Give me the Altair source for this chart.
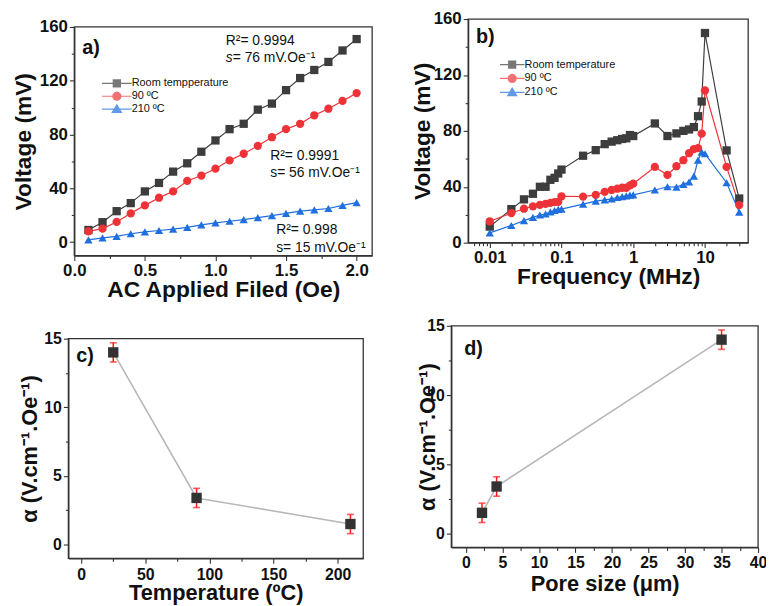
import math
import altair as alt
import pandas as pd

FONT = "Liberation Sans"
INK = "#111111"
FRAME_COL = "#333333"

# ---------------- data ----------------
# (a) voltage vs AC applied field
field_a = [0.1, 0.2, 0.3, 0.4, 0.5, 0.6, 0.7, 0.8, 0.9, 1.0,
           1.1, 1.2, 1.3, 1.4, 1.5, 1.6, 1.7, 1.8, 1.9, 2.0]
room_a = [9, 14.8, 23, 29, 37.7, 44, 52.4, 58.6, 67.2, 75.6,
          84, 88, 98.5, 103, 113, 122, 128, 134, 142.5, 151]
t90_a = [8, 10, 15, 21.4, 27.3, 33, 37.7, 45.5, 49.5, 54.6,
         60.8, 65.7, 71.6, 78, 84, 88, 94.3, 99.2, 105, 110.8]
t210_a = [1.7, 3.2, 4.2, 6.2, 7.6, 8.6, 9.6, 11, 12.8, 14.3,
          15.5, 16.7, 18.2, 19.7, 21.4, 23, 24, 25, 27.3, 29.3]
names_a = ["Room tempperature", "90 \u00baC", "210 \u00baC"]

r2_text_a = ["R\u00b2= 0.9994", "R\u00b2= 0.9991", "R\u00b2= 0.998"]
r2_x_a = [1.073, 1.388, 1.430]
r2_y_a = [149.7, 64.3, 9.1]
s_text_a = ["s= 56 mV.Oe\u207b\u00b9", "s= 15 mV.Oe\u207b\u00b9"]
s_x_a = [1.388, 1.430]
s_y_a = [51.1, -4.1]
s_italic_text = ["s"]
s_rest_text = ["= 76 mV.Oe\u207b\u00b9"]
s_italic_x = [1.073]
s_italic_y = [137.2]

# (b) voltage vs frequency
freq_b = [0.01, 0.02, 0.03, 0.04, 0.05, 0.06, 0.07, 0.08, 0.09,
          0.1, 0.2, 0.3, 0.4, 0.5, 0.6, 0.7, 0.8, 0.9,
          1, 2, 3, 4, 5, 6, 7, 8, 9,
          10, 20, 30]
room_b = [11.5, 24, 31, 35, 40, 40, 45, 46.4, 49.5,
          52.3, 62.2, 66.2, 70.5, 72.3, 73.3, 74.2, 74.7, 77,
          76.3, 85.3, 76.3, 78.2, 80, 81, 82.7, 90.5, 101,
          150, 66, 31.6]
t90_b = [15.3, 21.2, 24.3, 26, 27, 27.8, 28.5, 29, 29.2,
         33.2, 33, 34.2, 36.3, 37.7, 38.6, 39.3, 39.3, 41,
         42.2, 54.2, 48.5, 54.7, 59, 64, 67, 67.6, 78,
         108.9, 54.2, 26.9]
t210_b = [7, 12.3, 15.8, 18.1, 19.8, 20.5, 22, 23, 23.8,
          24, 27.6, 29.7, 30.6, 31.3, 32.3, 33, 33.5, 34,
          34.2, 37.7, 40, 39.8, 41.7, 43.4, 47.6, 59.1, 64.8,
          63.6, 42.9, 21.9]
names_b = ["Room temperature", "90 \u00baC", "210 \u00baC"]

# (c) alpha vs temperature
temp_c = [25, 90, 210]
alpha_c = [14.0, 3.4, 1.5]
err_c = [0.7, 0.7, 0.7]

# (d) alpha vs pore size
pore_d = [2.2, 4.2, 35]
alpha_d = [1.5, 3.4, 14.0]
err_d = [0.7, 0.7, 0.7]

panel_labels = ["a)", "b)", "c)", "d)"]
label_x = [0.056, 0.00644, -3.83, -0.24]
label_y = [144.5, 146.9, 13.7, 13.3]

# axis domains (frames)
dom_a = ([0, 2.11], [-10, 160])
dom_b = ([0.005, 40], [0, 160])
dom_c = ([-10, 220], [-1, 15])
dom_d = ([-2, 40], [-1, 15])

COLORS = ["#3d3d3d", "#ee3338", "#1f6fde"]
SHAPES = ["square", "circle", "triangle-up"]


def fmt(v):
    return ("%.3f" % v).rstrip("0").rstrip(".")


def glyphs(bar, sq, rc, tw, tt, tb):
    # legend glyphs: a thin bar (the line) plus the marker, all filled
    b = "M-1,%s L1,%s L1,%s L-1,%s Z" % (fmt(-bar), fmt(-bar), fmt(bar), fmt(bar))
    square = b + " M%s,%s L%s,%s L%s,%s L%s,%s Z" % (fmt(-sq), fmt(-sq), fmt(sq), fmt(-sq),
                                                    fmt(sq), fmt(sq), fmt(-sq), fmt(sq))
    pts = [(rc * math.cos(2 * math.pi * k / 16), rc * math.sin(2 * math.pi * k / 16))
           for k in range(16)]
    circle = b + " M" + " L".join("%s,%s" % (fmt(px), fmt(py)) for px, py in pts) + " Z"
    tri = b + " M0,%s L%s,%s L%s,%s Z" % (fmt(tt), fmt(tw), fmt(tb), fmt(-tw), fmt(tb))
    return [square, circle, tri]


LEG_A = glyphs(0.04, 0.28, 0.31, 0.38, -0.36, 0.27)
LEG_B = glyphs(0.05, 0.33, 0.37, 0.45, -0.42, 0.32)

# ---------------- layout (page pixels) ----------------
W, H = 766, 598
OX, OY = 8, 8
FRAMES = {"a": (75, 24, 376, 255), "b": (473, 16, 756, 242),
          "c": (69, 339, 367, 561), "d": (456, 326, 766, 550)}


def fr(p):
    l, t, r, b = FRAMES[p]
    return l - OX, t - OY, r - OX, b - OY


def offs(p):
    l, t, r, b = fr(p)
    return {"left": -l, "bottom": b - H, "top": -t, "right": r - W}


def xsc(p, dom, typ="linear"):
    l, t, r, b = fr(p)
    if typ == "log":
        return alt.Scale(type="log", domain=dom, range=[l, r], nice=False)
    return alt.Scale(domain=dom, range=[l, r], nice=False, zero=False)


def ysc(p, dom):
    l, t, r, b = fr(p)
    return alt.Scale(domain=dom, range=[b, t], nice=False, zero=False)


def major(p, orient, values, fmt_, title, tsize, tpad, lsize=17, lpad=2):
    return alt.Axis(orient=orient, offset=offs(p)[orient], values=values, format=fmt_,
                    title=title, titleFontSize=tsize, titlePadding=tpad, tickSize=5, grid=False,
                    labelFontSize=lsize, labelPadding=lpad)


def minor(p, orient, values):
    return alt.Axis(orient=orient, offset=offs(p)[orient], values=values, labels=False,
                    domain=False, tickSize=3, title=None, grid=False)


def frame_layer(xs_, ys_, dom):
    df = pd.DataFrame({"x0": [dom[0][0]], "x1": [dom[0][1]], "y0": [dom[1][0]], "y1": [dom[1][1]]})
    return alt.Chart(df).mark_rect(fillOpacity=0, stroke=FRAME_COL, strokeWidth=1.3).encode(
        x=alt.X("x0:Q", scale=xs_, axis=None), x2="x1:Q",
        y=alt.Y("y0:Q", scale=ys_, axis=None), y2="y1:Q")


def long_df(xs, vals_list, names, xname, yname):
    rows = []
    for name, vals, col, shp in zip(names, vals_list, COLORS, SHAPES):
        for xv, yv in zip(xs, vals):
            rows.append({xname: xv, yname: yv, "series": name, "col": col, "shp": shp})
    return pd.DataFrame(rows)


def legend(line_len, first_center, row_step):
    return alt.Legend(orient="none", legendX=first_center[0] - OX,
                      legendY=first_center[1] - OY - row_step / 2,
                      title=None, symbolSize=line_len * line_len, symbolStrokeWidth=0,
                      clipHeight=row_step, rowPadding=0, labelOffset=0, labelFontSize=11,
                      labelFont=FONT, labelColor=INK, labelFontWeight="normal", padding=0,
                      labelLimit=300)


def panel_label(i, xs_, ys_):
    lab = pd.DataFrame({"x": [label_x[i]], "y": [label_y[i]], "t": [panel_labels[i]]})
    return alt.Chart(lab).mark_text(align="left", baseline="middle", fontSize=20,
                                    font=FONT, fontWeight="bold", color=INK).encode(
        x=alt.X("x:Q", scale=xs_, axis=None), y=alt.Y("y:Q", scale=ys_, axis=None), text="t:N")


layers = []

# ---------- panel a ----------
df_a = long_df(field_a, [room_a, t90_a, t210_a], names_a, "field", "volt")
xa = xsc("a", dom_a[0])
ya = ysc("a", dom_a[1])
layers.append(alt.Chart(df_a).mark_line(strokeWidth=1.2).encode(
    x=alt.X("field:Q", scale=xa, axis=major("a", "bottom", [0, 0.5, 1.0, 1.5, 2.0], ".1f",
                                              "AC Applied Filed (Oe)", 23, 0)),
    y=alt.Y("volt:Q", scale=ya, axis=major("a", "left", [0, 40, 80, 120, 160], "d",
                                             "Voltage (mV)", 23, 4)),
    color=alt.Color("col:N", scale=None)))
layers.append(alt.Chart(df_a).mark_point(filled=True, size=70, opacity=1).encode(
    x=alt.X("field:Q", scale=xa, axis=minor("a", "bottom", [0.25, 0.75, 1.25, 1.75])),
    y=alt.Y("volt:Q", scale=ya, axis=minor("a", "left", [20, 60, 100, 140])),
    color=alt.Color("col:N", scale=None),
    shape=alt.Shape("shp:N", scale=None)))
ann_a = pd.DataFrame({"x": r2_x_a + s_x_a, "y": r2_y_a + s_y_a, "t": r2_text_a + s_text_a})
layers.append(alt.Chart(ann_a).mark_text(align="left", baseline="middle", fontSize=14,
                                         font=FONT, color=INK).encode(
    x=alt.X("x:Q", scale=xa, axis=None), y=alt.Y("y:Q", scale=ya, axis=None), text="t:N"))
ann_s = pd.DataFrame({"x": s_italic_x, "y": s_italic_y, "t": s_italic_text, "r": s_rest_text})
layers.append(alt.Chart(ann_s).mark_text(align="left", baseline="middle", fontSize=14,
                                         font=FONT, fontStyle="italic", color=INK).encode(
    x=alt.X("x:Q", scale=xa, axis=None), y=alt.Y("y:Q", scale=ya, axis=None), text="t:N"))
layers.append(alt.Chart(ann_s).mark_text(align="left", baseline="middle", fontSize=14,
                                         font=FONT, color=INK, dx=7).encode(
    x=alt.X("x:Q", scale=xa, axis=None), y=alt.Y("y:Q", scale=ya, axis=None), text="r:N"))
layers.append(panel_label(0, xa, ya))
layers.append(frame_layer(xa, ya, dom_a))
leg_a = legend(30, (103, 81), 13)
layers.append(alt.Chart(pd.DataFrame({"series": names_a})).transform_filter("false")
              .mark_point(filled=True).encode(
    color=alt.Color("series:N", scale=alt.Scale(domain=names_a, range=COLORS), legend=leg_a),
    shape=alt.Shape("series:N", scale=alt.Scale(domain=names_a, range=LEG_A), legend=leg_a)))

# ---------- panel b ----------
df_b = long_df(freq_b, [room_b, t90_b, t210_b], names_b, "freq", "volt")
xb = xsc("b", dom_b[0], "log")
yb = ysc("b", dom_b[1])
minor_b = [0.006, 0.007, 0.008, 0.009, 0.02, 0.03, 0.04, 0.05, 0.06, 0.07, 0.08, 0.09,
           0.2, 0.3, 0.4, 0.5, 0.6, 0.7, 0.8, 0.9, 2, 3, 4, 5, 6, 7, 8, 9, 20, 30]
layers.append(alt.Chart(df_b).mark_line(strokeWidth=1.2).encode(
    x=alt.X("freq:Q", scale=xb, axis=major("b", "bottom", [0.01, 0.1, 1, 10], "~g",
                                             "Frequency (MHz)", 23, 0)),
    y=alt.Y("volt:Q", scale=yb, axis=major("b", "left", [0, 40, 80, 120, 160], "d",
                                             "Voltage (mV)", 23, -1)),
    color=alt.Color("col:N", scale=None)))
layers.append(alt.Chart(df_b).mark_point(filled=True, size=70, opacity=1).encode(
    x=alt.X("freq:Q", scale=xb, axis=minor("b", "bottom", minor_b)),
    y=alt.Y("volt:Q", scale=yb, axis=minor("b", "left", [20, 60, 100, 140])),
    color=alt.Color("col:N", scale=None),
    shape=alt.Shape("shp:N", scale=None)))
layers.append(panel_label(1, xb, yb))
layers.append(frame_layer(xb, yb, dom_b))
leg_b = legend(25, (505, 62), 13.5)
layers.append(alt.Chart(pd.DataFrame({"series": names_b})).transform_filter("false")
              .mark_point(filled=True).encode(
    color=alt.Color("series:N", scale=alt.Scale(domain=names_b, range=COLORS), legend=leg_b),
    shape=alt.Shape("series:N", scale=alt.Scale(domain=names_b, range=LEG_B), legend=leg_b)))


# ---------- panels c and d ----------
def alpha_panel(p, xs, ys, es, dom, xmaj, xmin, xtitle, lab_i, ytpad, xtpad, xlpad):
    df = pd.DataFrame({"x": xs, "y": ys, "lo": [v - e for v, e in zip(ys, es)],
                       "hi": [v + e for v, e in zip(ys, es)]})
    xs_ = xsc(p, dom[0])
    ys_ = ysc(p, dom[1])
    out = []
    out.append(alt.Chart(df).mark_line(color="#b8b8b8", strokeWidth=1.6).encode(
        x=alt.X("x:Q", scale=xs_, axis=major(p, "bottom", xmaj, "d", xtitle, 22, xtpad, 16,
                                              xlpad)),
        y=alt.Y("y:Q", scale=ys_, axis=major(p, "left", [0, 5, 10, 15], "d",
                                              "\u03b1 (V.cm\u207b\u00b9.Oe\u207b\u00b9)", 22,
                                              ytpad, 16))))
    out.append(alt.Chart(df).mark_rule(color="#ff1a1a", strokeWidth=1.5).encode(
        x=alt.X("x:Q", scale=xs_, axis=None), y=alt.Y("lo:Q", scale=ys_, axis=None), y2="hi:Q"))
    out.append(alt.Chart(df).transform_fold(["lo", "hi"], as_=["k", "v"])
               .mark_tick(orient="horizontal", color="#ff1a1a", size=7, thickness=1.6).encode(
        x=alt.X("x:Q", scale=xs_, axis=None), y=alt.Y("v:Q", scale=ys_, axis=None)))
    out.append(alt.Chart(df).mark_point(shape="square", filled=True, size=110, color="#333333",
                                        opacity=1).encode(
        x=alt.X("x:Q", scale=xs_, axis=minor(p, "bottom", xmin)),
        y=alt.Y("y:Q", scale=ys_, axis=minor(p, "left", [2.5, 7.5, 12.5]))))
    out.append(panel_label(lab_i, xs_, ys_))
    out.append(frame_layer(xs_, ys_, dom))
    return out


layers += alpha_panel("c", temp_c, alpha_c, err_c, dom_c, [0, 50, 100, 150, 200],
                      [25, 75, 125, 175], "Temperature (\u00baC)", 2, 2, 1, 3)
layers += alpha_panel("d", pore_d, alpha_d, err_d, dom_d, [0, 5, 10, 15, 20, 25, 30, 35, 40],
                      [2.5, 7.5, 12.5, 17.5, 22.5, 27.5, 32.5, 37.5], "Pore size (\u03bcm)", 3,
                      -13, 3, 2)

chart = alt.layer(*layers).resolve_scale(
    x="independent", y="independent", color="independent", shape="independent"
).properties(
    width=W, height=H, autosize=alt.AutoSizeParams(type="none"), padding=0, background="white"
).configure_view(strokeOpacity=0).configure_axis(
    grid=False, domainColor=FRAME_COL, domainWidth=1.3, tickColor=FRAME_COL, tickWidth=1.1,
    labelFont=FONT, labelFontWeight="bold", labelFontSize=17, labelColor=INK, labelPadding=2,
    titleFont=FONT, titleFontWeight="bold", titleColor=INK, labelFlush=False,
    labelOverlap=False
)

chart.save("out.html", embed_options={"renderer": "svg", "actions": False})
